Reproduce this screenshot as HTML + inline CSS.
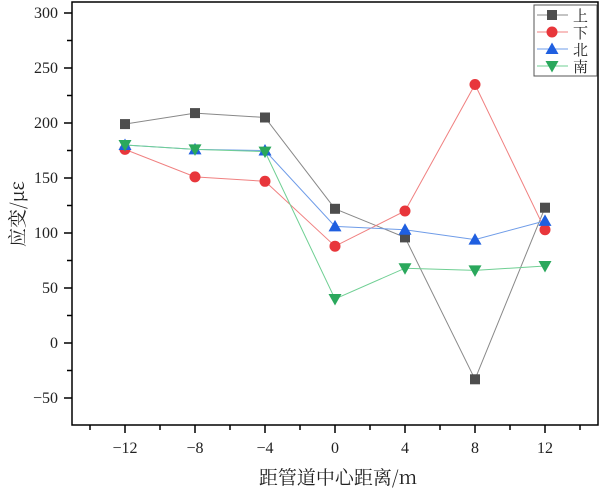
<!DOCTYPE html><html><head><meta charset="utf-8"><style>body{margin:0;background:#fff}svg{display:block}text{font-family:"Liberation Serif","Noto Serif CJK SC",serif;fill:#222}.cj{font-family:"Noto Serif CJK SC",serif}</style></head><body>
<svg width="600" height="489" xmlns="http://www.w3.org/2000/svg">
<rect x="72" y="2" width="526" height="423" fill="none" stroke="#000" stroke-width="1.5"/>
<g id="ticks" stroke="#000" stroke-width="1.5"></g>
<g id="labels" font-size="16"></g>
<text class="cj" x="338" y="484" font-size="19" text-anchor="middle">距管道中心距离/m</text>
<text class="cj" transform="translate(24,214) rotate(-90)" font-size="19" text-anchor="middle">应变/με</text>
<g id="series"></g>
<rect x="534" y="5" width="63" height="71" fill="#fff" stroke="#555" stroke-width="1"/>
<g id="leg"></g>
<script>
var NS="http://www.w3.org/2000/svg";
function X(v){return 335+v*17.5}function Y(v){return 123-(v-200)*1.1}
function el(p,t,a,txt){var e=document.createElementNS(NS,t);for(var k in a)e.setAttribute(k,a[k]);if(txt!=null)e.textContent=txt;document.getElementById(p).appendChild(e);return e}
for(var v=-75;v<=300;v+=25){var y=Y(v);if(y<2||y>425)continue;var major=v%50==0;el("ticks","line",{x1:72-(major?8:5),x2:72,y1:y,y2:y});if(major)el("labels","text",{x:58,y:y+5,"text-anchor":"end"},v<0?"−"+(-v):v)}
for(var v=-14;v<=14;v+=2){var x=X(v);var major=v%4==0;el("ticks","line",{x1:x,x2:x,y1:425,y2:425+(major?8:5)});if(major)el("labels","text",{x:x,y:453,"text-anchor":"middle"},v<0?"−"+(-v):v)}
var xs=[-12,-8,-4,0,4,8,12];
var S=[["#4d4d4d","#888",[199,209,205,122,96,-33,123],"s"],["#e8363b","#f08080",[176,151,147,88,120,235,103],"c"],["#1f5fe0","#6f9ce8",[180,176,175,106,103,94,111],"u"],["#2aa85c","#6fcf93",[180,176,174,40,68,66,70],"d"]];
function mk(g,t,x,y,c){if(t=="s")el(g,"rect",{x:x-5,y:y-5,width:10,height:10,fill:c});else if(t=="c")el(g,"circle",{cx:x,cy:y,r:5.5,fill:c});else if(t=="u")el(g,"polygon",{points:(x-6.5)+","+(y+5)+" "+(x+6.5)+","+(y+5)+" "+x+","+(y-6.5),fill:c});else el(g,"polygon",{points:(x-6.5)+","+(y-5)+" "+(x+6.5)+","+(y-5)+" "+x+","+(y+6.5),fill:c})}
S.forEach(function(s){el("series","polyline",{points:xs.map(function(v,i){return X(v)+","+Y(s[2][i])}).join(" "),fill:"none",stroke:s[1],"stroke-width":1})});
S.forEach(function(s){xs.forEach(function(v,i){mk("series",s[3],X(v),Y(s[2][i]),s[0])})});
var nm=["上","下","北","南"];
S.forEach(function(s,i){var y=15+i*17;el("leg","line",{x1:537,x2:568,y1:y,y2:y,stroke:s[1]});mk("leg",s[3],552,y,s[0]);el("leg","text",{x:573,y:y+6,"font-size":15,"class":"cj"},nm[i])});
</script>
</svg></body></html>
